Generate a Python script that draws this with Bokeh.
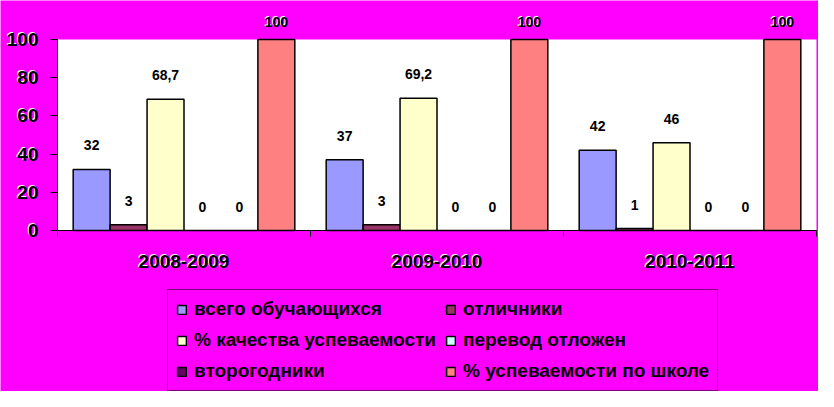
from bokeh.plotting import figure
from bokeh.models import (Range1d, ColumnDataSource, LabelSet, Legend, LegendItem,
                          LinearAxis, FixedTicker, CustomJSTickFormatter)
from bokeh.core.properties import value
from bokeh.embed import file_html
from bokeh.resources import INLINE

# ---------------- data ----------------
years = ["2008-2009", "2009-2010", "2010-2011"]
series_names = ["всего обучающихся", "отличники", "% качества успеваемости",
                "перевод отложен", "второгодники", "% успеваемости по школе"]
total_students = [32, 37, 42]
excellent = [3, 3, 1]
quality_pct = [68.7, 69.2, 46]
transfer_postponed = [0, 0, 0]
repeaters = [0, 0, 0]
success_pct = [100, 100, 100]
y_ticks = [0, 20, 40, 60, 80, 100]
colors = ["#9999FF", "#993366", "#FFFFCC", "#CCFFFF", "#660066", "#FF8080"]

series_values = [total_students, excellent, quality_pct,
                 transfer_postponed, repeaters, success_pct]

FONT_NAME = "Liberation Sans"
FONT = value(FONT_NAME)
MAGENTA = "#FF00FF"


def fmt(v):
    return ("%g" % v).replace(".", ",")


# ---------------- layout (pixels) ----------------
W, H = 818, 391
PL, PR, PT, PB = 57, 816, 39, 230          # plot-area edges inside the canvas
nx = len(years)
ymax = y_ticks[-1]
kx = (PR - PL) / nx
ky = (PB - PT) / ymax
x_rng = Range1d(-PL / kx, nx + (W - PR) / kx)
y_rng = Range1d(-(H - PB) / ky, ymax + PT / ky)

centers = [i + 0.5 for i in range(nx)]
edges = list(range(nx + 1))

p = figure(width=W, height=H, x_range=x_rng, y_range=y_rng,
           output_backend="svg", toolbar_location=None,
           x_axis_location=None, y_axis_location=None,
           min_border_left=0, min_border_right=0,
           min_border_top=0, min_border_bottom=0,
           background_fill_color=MAGENTA, border_fill_color=MAGENTA,
           outline_line_color=None)
p.grid.grid_line_color = None

# white plot area
p.quad(left=[0], right=[nx], bottom=[0], top=[ymax],
       fill_color="white", line_color=None)

# ---------------- axes ----------------
yaxis = LinearAxis(fixed_location=0, bounds=(0, ymax),
                   ticker=FixedTicker(ticks=y_ticks),
                   major_tick_out=7, major_tick_in=0,
                   minor_tick_out=0, minor_tick_in=0,
                   axis_line_color="black", major_tick_line_color="black",
                   major_label_standoff=12,
                   major_label_text_font=FONT_NAME,
                   major_label_text_font_style="bold",
                   major_label_text_font_size="19px",
                   major_label_text_color="black")
p.add_layout(yaxis, "left")

xaxis = LinearAxis(fixed_location=0, bounds=(0, nx),
                   ticker=FixedTicker(ticks=edges),
                   formatter=CustomJSTickFormatter(code="return ''"),
                   major_tick_out=6, major_tick_in=0,
                   minor_tick_out=0, minor_tick_in=0,
                   axis_line_color="black", major_tick_line_color="black",
                   major_label_standoff=0)
p.add_layout(xaxis, "below")

# ---------------- bars + value labels ----------------
bw = 0.146
n = len(series_names)
items = []
for i, (name, vals, col) in enumerate(zip(series_names, series_values, colors)):
    off = (i - (n - 1) / 2) * bw
    src = ColumnDataSource(dict(x=[c + off for c in centers], top=vals,
                                label=[fmt(v) for v in vals]))
    r = p.vbar(x="x", top="top", bottom=0, width=bw,
               fill_color=col, line_color="black", line_width=1.5, source=src)
    items.append(LegendItem(label=name, renderers=[r]))
    yo = 18 if max(vals) >= ymax else 24
    for color, dx, dy in (("white", -1, 1), ("black", 0, 0)):
        p.add_layout(LabelSet(x="x", y="top", text="label",
                              source=src, y_offset=yo + dy, x_offset=dx,
                              text_align="center", text_baseline="middle",
                              text_font=FONT, text_font_style="bold",
                              text_font_size="14px", text_color=color))

# white highlight under y tick labels
ysrc = ColumnDataSource(dict(x=[0] * len(y_ticks), y=y_ticks,
                             label=[str(t) for t in y_ticks]))
p.add_layout(LabelSet(x="x", y="y", text="label", source=ysrc,
                      x_offset=-20, y_offset=1, level="underlay",
                      text_align="right", text_baseline="middle",
                      text_font=FONT, text_font_style="bold",
                      text_font_size="19px", text_color="white"))

# category labels
xsrc = ColumnDataSource(dict(x=centers, y=[0] * nx, label=years))
for color, dx, dy in (("white", -1, 1), ("black", 0, 0)):
    p.add_layout(LabelSet(x="x", y="y", text="label", source=xsrc,
                          x_offset=dx, y_offset=-31 + dy,
                          text_align="center", text_baseline="middle",
                          text_font=FONT, text_font_style="bold",
                          text_font_size="19px", text_color=color))

# ---------------- legend ----------------
legend = Legend(items=items, location=(167, 0), orientation="horizontal", ncols=2,
                label_text_font=FONT_NAME, label_text_font_style="bold",
                label_text_font_size="19px", label_text_color="black",
                glyph_width=11, glyph_height=11, label_standoff=7,
                spacing=9, padding=8, margin=0,
                background_fill_color=MAGENTA, background_fill_alpha=1,
                border_line_color="black", border_line_width=1)
p.add_layout(legend)

open("out.html", "w").write(file_html(p, INLINE))
